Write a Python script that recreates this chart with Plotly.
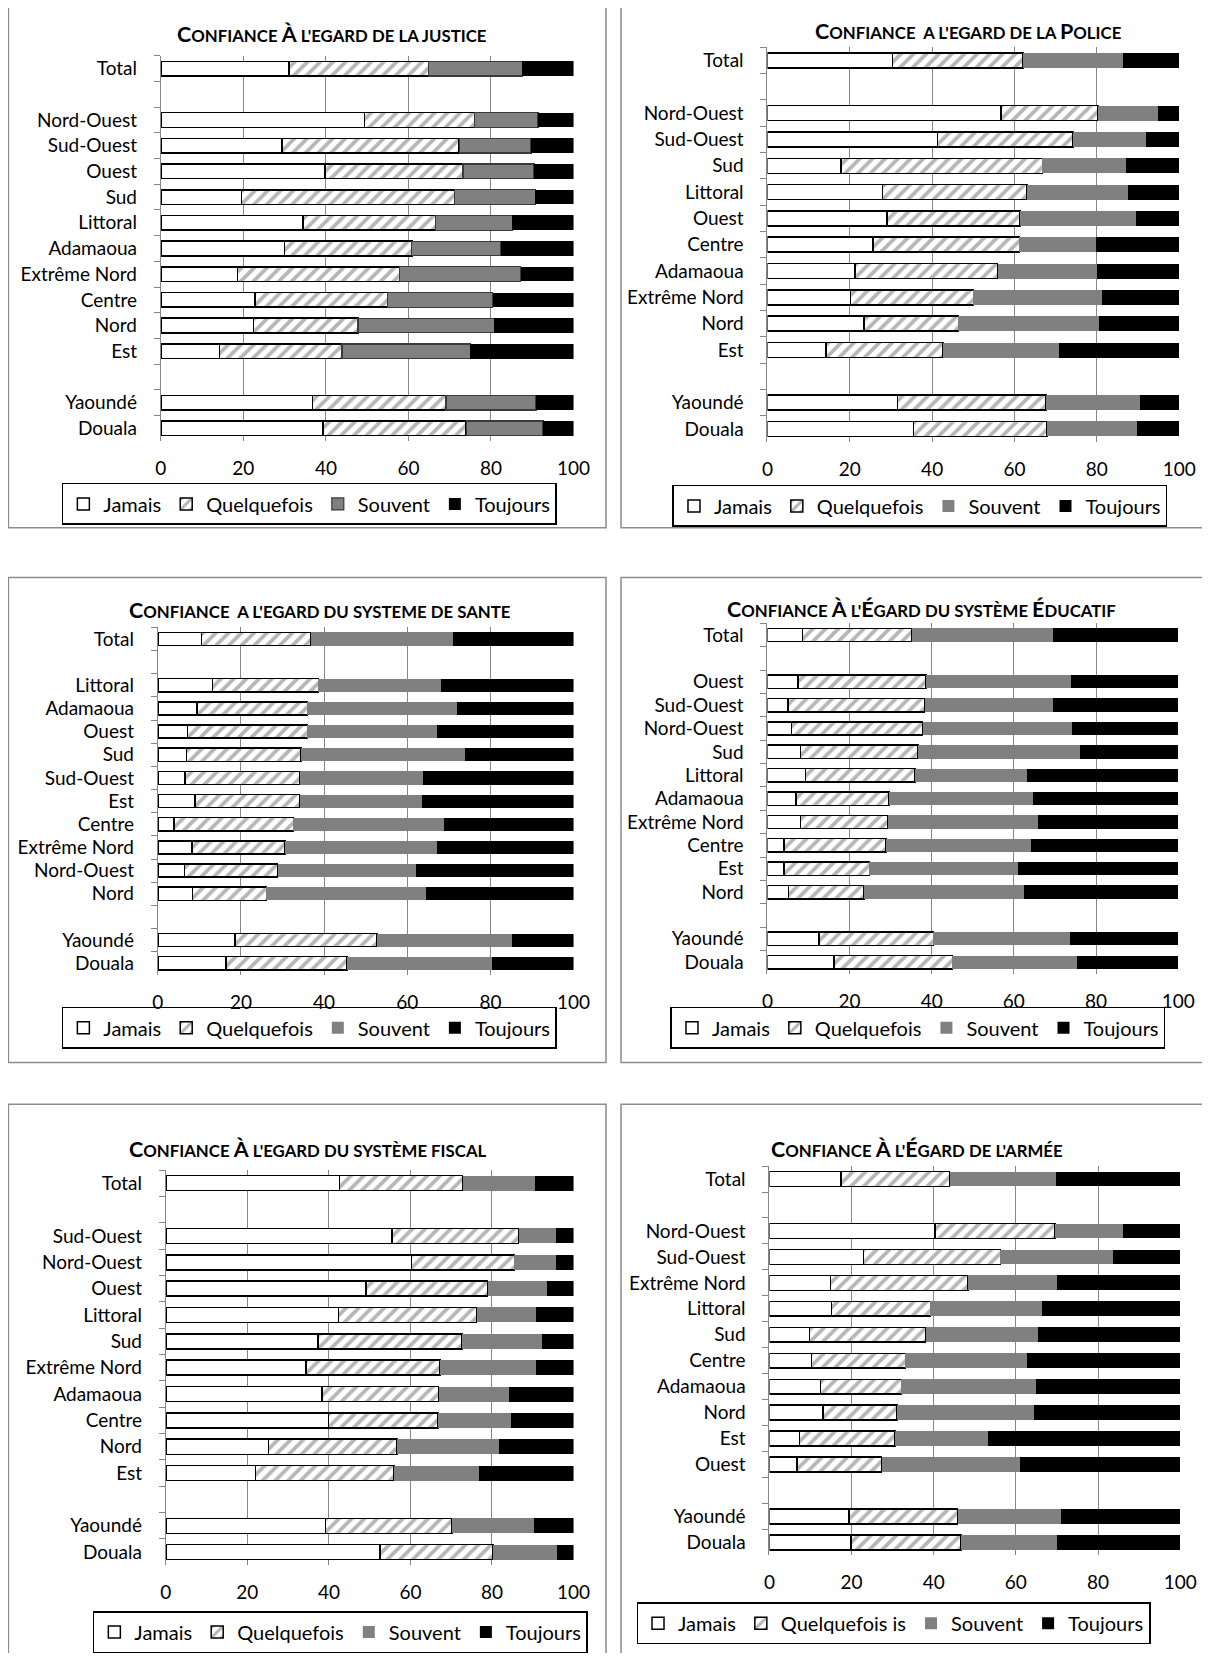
import plotly.graph_objects as go

# Page is 1210x1661; the browser adds an 8px body margin around the figure.
OFF = 8
FW, FH = 1194, 1645
# horizontal correction measured from earlier renders (page px -> design px)
XA, XB = 1.019, -6.37

# ---------------- data (percent per segment) ----------------
series_names = ["Jamais", "Quelquefois", "Souvent", "Toujours"]
series_names_armee = ["Jamais", "Quelquefois is", "Souvent", "Toujours"]

justice_title = "Confiance À l'egard de la justice"
justice_cats = ["Total", "Nord-Ouest", "Sud-Ouest", "Ouest", "Sud", "Littoral", "Adamaoua",
                "Extrême Nord", "Centre", "Nord", "Est", "Yaoundé", "Douala"]
justice_jamais = [31.0, 49.3, 29.4, 39.8, 19.6, 34.5, 30.0, 18.6, 22.8, 22.5, 14.2, 36.7, 39.3]
justice_quelquefois = [33.8, 26.7, 42.9, 33.4, 51.5, 32.1, 30.8, 39.2, 32.2, 25.3, 29.7, 32.4, 34.7]
justice_souvent = [22.8, 15.4, 17.4, 17.2, 19.6, 18.6, 21.6, 29.4, 25.4, 33.0, 31.1, 21.8, 18.6]
justice_toujours = [12.4, 8.6, 10.3, 9.6, 9.3, 14.8, 17.6, 12.8, 19.6, 19.2, 25.0, 9.1, 7.4]

police_title = "Confiance  a l'egard de la Police"
police_cats = ["Total", "Nord-Ouest", "Sud-Ouest", "Sud", "Littoral", "Ouest", "Centre",
               "Adamaoua", "Extrême Nord", "Nord", "Est", "Yaoundé", "Douala"]
police_jamais = [30.4, 56.7, 41.3, 17.9, 27.9, 29.1, 25.7, 21.3, 20.2, 23.4, 14.2, 31.6, 35.5]
police_quelquefois = [31.7, 23.6, 32.9, 48.9, 35.2, 32.2, 35.5, 34.6, 29.8, 23.0, 28.4, 36.1, 32.4]
police_souvent = [24.2, 14.5, 17.8, 20.3, 24.4, 28.2, 18.7, 24.1, 31.3, 34.1, 28.2, 22.7, 21.9]
police_toujours = [13.7, 5.2, 8.0, 12.9, 12.5, 10.5, 20.1, 20.0, 18.7, 19.5, 29.2, 9.6, 10.2]

sante_title = "Confiance  a l'egard du systeme de sante"
sante_cats = ["Total", "Littoral", "Adamaoua", "Ouest", "Sud", "Sud-Ouest", "Est", "Centre",
              "Extrême Nord", "Nord-Ouest", "Nord", "Yaoundé", "Douala"]
sante_jamais = [10.5, 13.1, 9.4, 7.1, 6.9, 6.6, 9.0, 3.9, 8.2, 6.4, 8.4, 18.6, 16.4]
sante_quelquefois = [26.4, 25.5, 26.6, 28.9, 27.6, 27.6, 25.1, 28.7, 22.4, 22.4, 17.7, 34.1, 29.1]
sante_souvent = [34.2, 29.5, 35.9, 31.1, 39.4, 29.5, 29.4, 36.3, 36.6, 33.2, 38.4, 32.5, 34.9]
sante_toujours = [28.9, 31.9, 28.1, 32.9, 26.1, 36.3, 36.5, 31.1, 32.8, 38.0, 35.5, 14.8, 19.6]

educ_title = "Confiance À l'Égard du système Éducatif"
educ_cats = ["Total", "Ouest", "Sud-Ouest", "Nord-Ouest", "Sud", "Littoral", "Adamaoua",
             "Extrême Nord", "Centre", "Est", "Nord", "Yaoundé", "Douala"]
educ_jamais = [8.6, 7.5, 5.0, 5.9, 8.1, 9.3, 6.9, 8.0, 4.0, 4.0, 5.1, 12.5, 16.2]
educ_quelquefois = [26.6, 31.1, 33.3, 31.9, 28.6, 26.6, 22.7, 21.4, 24.9, 20.8, 18.4, 27.9, 28.8]
educ_souvent = [34.4, 35.2, 31.3, 36.3, 39.5, 27.3, 35.0, 36.4, 35.2, 36.2, 38.9, 33.3, 30.4]
educ_toujours = [30.4, 26.2, 30.4, 25.9, 23.8, 36.8, 35.4, 34.2, 35.9, 39.0, 37.6, 26.3, 24.6]

fiscal_title = "Confiance À l'egard du système fiscal"
fiscal_cats = ["Total", "Sud-Ouest", "Nord-Ouest", "Ouest", "Littoral", "Sud", "Extrême Nord",
               "Adamaoua", "Centre", "Nord", "Est", "Yaoundé", "Douala"]
fiscal_jamais = [42.6, 55.5, 60.3, 49.1, 42.3, 37.3, 34.4, 38.3, 39.9, 25.2, 22.0, 39.2, 52.5]
fiscal_quelquefois = [30.2, 31.0, 25.2, 29.8, 33.9, 35.3, 32.8, 28.6, 26.8, 31.5, 34.0, 31.0, 27.7]
fiscal_souvent = [17.7, 9.2, 10.2, 14.7, 14.7, 19.6, 23.7, 17.2, 18.0, 24.9, 20.7, 20.0, 15.7]
fiscal_toujours = [9.5, 4.3, 4.3, 6.4, 9.1, 7.8, 9.1, 15.9, 15.3, 18.4, 23.3, 9.8, 4.1]

armee_title = "Confiance À l'Égard de l'armée"
armee_cats = ["Total", "Nord-Ouest", "Sud-Ouest", "Extrême Nord", "Littoral", "Sud", "Centre",
              "Adamaoua", "Nord", "Est", "Ouest", "Yaoundé", "Douala"]
armee_jamais = [17.4, 40.3, 22.9, 14.9, 15.1, 9.7, 10.3, 12.4, 13.1, 7.3, 6.7, 19.4, 19.8]
armee_quelquefois = [26.5, 29.2, 33.3, 33.4, 24.1, 28.3, 22.8, 19.7, 18.0, 23.3, 20.6, 26.4, 26.8]
armee_souvent = [25.9, 16.7, 27.5, 21.7, 27.1, 27.5, 29.6, 32.7, 33.2, 22.6, 33.6, 25.3, 23.4]
armee_toujours = [30.2, 13.8, 16.3, 30.0, 33.7, 34.5, 37.3, 35.2, 35.7, 46.8, 39.1, 28.9, 30.0]

x_ticks = [0, 20, 40, 60, 80, 100]

panels_data = [
    (justice_title, justice_cats, [justice_jamais, justice_quelquefois, justice_souvent, justice_toujours], series_names),
    (police_title, police_cats, [police_jamais, police_quelquefois, police_souvent, police_toujours], series_names),
    (sante_title, sante_cats, [sante_jamais, sante_quelquefois, sante_souvent, sante_toujours], series_names),
    (educ_title, educ_cats, [educ_jamais, educ_quelquefois, educ_souvent, educ_toujours], series_names),
    (fiscal_title, fiscal_cats, [fiscal_jamais, fiscal_quelquefois, fiscal_souvent, fiscal_toujours], series_names),
    (armee_title, armee_cats, [armee_jamais, armee_quelquefois, armee_souvent, armee_toujours], series_names_armee),
]

# ---------------- layout geometry (page pixels) ----------------
geom = [
    dict(plot=(161, 574, 55, 442), title=(332, 33), legend=(62, 484), box=(8.5, 4, 606.5, 529)),
    dict(plot=(768, 1180, 46.5, 443), title=(969, 30), legend=(673, 486), box=(621.5, 4, 1240, 529)),
    dict(plot=(158, 574, 629, 978), title=(320, 612), legend=(62, 1010), box=(8.5, 579, 606.5, 1066)),
    dict(plot=(768, 1179, 625, 977), title=(922, 611), legend=(671, 1010), box=(621.5, 579, 1240, 1066)),
    dict(plot=(166, 574, 1174, 1571), title=(308, 1153), legend=(93, 1617), box=(8.5, 1108, 606.5, 1690)),
    dict(plot=(770, 1181, 1170, 1561), title=(918, 1153), legend=(637, 1608), box=(621.5, 1108, 1240, 1690)),
]

FONT = "Lato"
GRID = "#868686"


def px_x(v):
    return ((XA * v + XB) - OFF) / FW


def px_y(v):
    return 1 - (v - OFF) / FH


def smallcaps(s, big=21.5, small=16.8):
    out = []
    for ch in s:
        if ch.isalpha() and ch.isupper():
            out.append(f"<span style='font-size:{big}px'>{ch}</span>")
        else:
            out.append(ch.upper() if ch.isalpha() else ch)
    return "<b>" + "".join(out) + "</b>"


fig = go.Figure()
shapes, annotations = [], []
layout = dict(
    width=FW, height=FH, margin=dict(l=0, r=0, t=0, b=0),
    paper_bgcolor="white", plot_bgcolor="white",
    font=dict(family=FONT, color="black", size=19),
    barmode="stack", bargap=0.43, showlegend=True,
)

for i, (title, cats, vals, names) in enumerate(panels_data):
    g = geom[i]
    n = i + 1
    xa = "x" if n == 1 else f"x{n}"
    ya = "y" if n == 1 else f"y{n}"
    lg = "legend" if n == 1 else f"legend{n}"
    axis_cats = [cats[0], " "] + cats[1:11] + ["  "] + cats[11:13]

    styles = [
        dict(color="white", line=dict(color="black", width=1.5)),
        dict(color="white", line=dict(color="black", width=1.5),
             pattern=dict(shape="/", fgcolor="#6e6e6e", bgcolor="white", size=9, solidity=0.42)),
        dict(color="#808080", line=dict(color="#3a3a3a" if i == 0 else "#808080", width=1.2 if i == 0 else 0)),
        dict(color="black", line=dict(color="black", width=0)),
    ]
    for k in range(4):
        v = vals[k]
        xs = [v[0], None] + v[1:11] + [None] + v[11:13]
        fig.add_trace(go.Bar(
            x=xs, y=axis_cats, orientation="h", name=names[k],
            marker=styles[k], xaxis=xa, yaxis=ya, legend=lg,
            hoverinfo="x+y+name",
        ))

    l, r, t, b = g["plot"]
    layout[f"xaxis{'' if n == 1 else n}"] = dict(
        domain=[px_x(l), px_x(r)], anchor=ya, range=[0, 100],
        tickvals=x_ticks, showgrid=True, gridcolor=GRID, gridwidth=1,
        zeroline=False, showline=False, ticks="", tickfont=dict(size=19),
        ticklabelstandoff=14, fixedrange=True,
    )
    layout[f"yaxis{'' if n == 1 else n}"] = dict(
        domain=[px_y(b), px_y(t)], anchor=xa, type="category",
        categoryorder="array", categoryarray=axis_cats,
        range=[len(axis_cats) - 0.5, -0.5],
        showline=True, linecolor=GRID, linewidth=1,
        ticks="outside", ticklen=6, tickcolor=GRID, tickson="boundaries",
        showgrid=False, zeroline=False, tickfont=dict(size=19),
        ticklabelstandoff=19, fixedrange=True,
    )
    lx, ly = g["legend"]
    layout[lg] = dict(
        orientation="h", x=px_x(lx), y=px_y(ly), xanchor="left", yanchor="top",
        bgcolor="rgba(0,0,0,0)", bordercolor="black", borderwidth=1.5,
        font=dict(size=20), traceorder="normal", itemwidth=30,
    )
    cx, cy = g["title"]
    annotations.append(dict(
        text=smallcaps(title), x=px_x(cx), y=px_y(cy), xref="paper", yref="paper",
        xanchor="center", yanchor="middle", showarrow=False,
        font=dict(size=16.8, family=FONT, color="black"),
    ))
    bx0, by0, bx1, by1 = g["box"]
    shapes.append(dict(
        type="rect", xref="paper", yref="paper",
        x0=px_x(bx0), x1=px_x(bx1), y0=px_y(by1), y1=px_y(by0),
        line=dict(color="#8c8c8c", width=1.5), fillcolor="rgba(0,0,0,0)", layer="below",
    ))

layout["shapes"] = shapes
layout["annotations"] = annotations
fig.update_layout(**layout)

fig.write_html("out.html", config={"displayModeBar": False})
